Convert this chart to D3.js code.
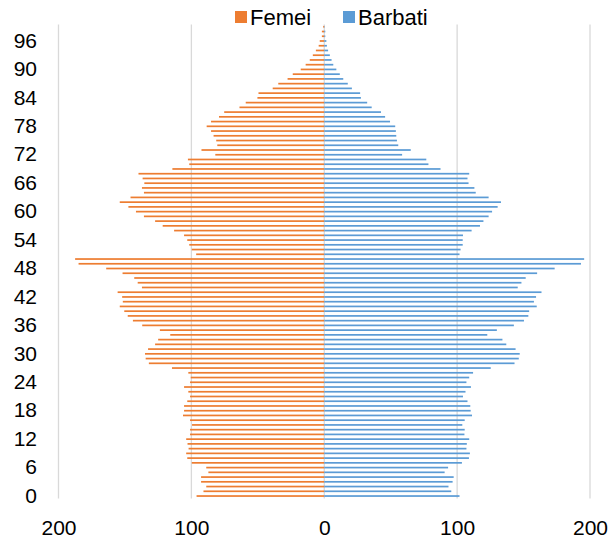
<!DOCTYPE html>
<html>
<head>
<meta charset="utf-8">
<script src="https://cdn.jsdelivr.net/npm/d3@7"></script>
<style>
  html, body { margin: 0; padding: 0; background: #ffffff; }
  svg { display: block; font-family: "Liberation Sans", Arial, sans-serif; }
</style>
</head>
<body>
<svg id="chart" width="610" height="548"></svg>
<script>
// Ages 0..99
const ages = d3.range(0, 100);

// Femei (women), age 0 .. 99
const femei = [
  96.1, 90.9, 88.8, 92.7, 92.7, 87.2, 88.8, 99.7, 103.1, 103.9,
  102.1, 102.9, 103.9, 101.0, 101.0, 99.5, 101.0, 106.3, 105.5, 105.5,
  103.1, 101.0, 102.3, 105.5, 101.0, 100.5, 102.3, 114.6, 132.0, 134.4,
  134.9, 132.6, 127.3, 125.0, 115.9, 123.7, 137.0, 144.0, 147.9, 150.5,
  153.9, 151.6, 152.1, 155.5, 137.2, 140.4, 143.0, 151.8, 164.1, 184.9,
  187.5, 96.4, 99.7, 101.6, 103.1, 105.5, 113.0, 121.6, 127.3, 135.7,
  141.7, 147.4, 153.9, 145.8, 135.7, 137.2, 135.4, 136.7, 139.8, 114.3,
  101.6, 102.6, 82.0, 92.4, 80.5, 81.3, 83.3, 85.2, 88.5, 85.2,
  79.2, 75.3, 63.8, 59.1, 50.3, 49.5, 38.8, 34.6, 27.6, 23.7,
  17.7, 14.0, 10.9, 8.6, 6.3, 4.2, 3.4, 1.8, 1.8, 0.8
];

// Barbati (men), age 0 .. 99
const barbati = [
  101.8, 95.6, 93.5, 96.6, 97.4, 90.6, 93.2, 103.6, 108.9, 109.6,
  107.0, 107.3, 109.1, 105.5, 105.7, 103.9, 105.7, 111.2, 110.2, 109.9,
  107.8, 104.4, 106.3, 110.4, 107.0, 109.1, 112.0, 125.3, 143.2, 146.4,
  147.1, 144.0, 137.0, 134.1, 122.7, 129.9, 142.7, 150.3, 153.6, 154.2,
  159.9, 157.8, 159.4, 163.5, 145.6, 148.4, 151.6, 160.2, 173.4, 193.2,
  195.6, 101.8, 102.6, 104.2, 104.2, 104.4, 110.9, 117.2, 119.8, 123.7,
  126.3, 130.5, 133.0, 123.7, 114.0, 113.0, 108.6, 107.8, 109.1, 87.5,
  78.4, 76.8, 58.6, 65.1, 55.7, 54.7, 54.2, 53.9, 53.4, 49.5,
  45.8, 42.7, 35.7, 32.3, 27.6, 27.0, 20.8, 17.7, 14.3, 11.7,
  9.1, 6.8, 5.5, 4.2, 2.9, 2.0, 1.6, 0.8, 0.8, 0.3
];

const xTicks = [-200, -100, 0, 100, 200];
const yTickLabels = d3.range(0, 100, 6);
const seriesNames = ["Femei", "Barbati"];
const colors = { Femei: "#ED7D31", Barbati: "#5B9BD5" };

const svg = d3.select("#chart");
const FONT = 21;

const x = d3.scaleLinear().domain([-200, 200]).range([58.5, 590]);
const y = d3.scaleBand()
  .domain(ages)
  .range([498.4, 24.4])
  .paddingInner(0.64)
  .paddingOuter(0.32);

// Gridlines
svg.append("g")
  .selectAll("line")
  .data(xTicks)
  .join("line")
  .attr("x1", d => x(d)).attr("x2", d => x(d))
  .attr("y1", 24.4).attr("y2", 498.4)
  .attr("stroke", "#d9d9d9")
  .attr("stroke-width", 1.3);

// Bars - Femei (left)
svg.append("g")
  .selectAll("rect")
  .data(ages)
  .join("rect")
  .attr("x", d => x(-femei[d]))
  .attr("width", d => x(0) - x(-femei[d]))
  .attr("y", d => y(d))
  .attr("height", y.bandwidth())
  .attr("fill", colors.Femei);

// Bars - Barbati (right)
svg.append("g")
  .selectAll("rect")
  .data(ages)
  .join("rect")
  .attr("x", x(0))
  .attr("width", d => x(barbati[d]) - x(0))
  .attr("y", d => y(d))
  .attr("height", y.bandwidth())
  .attr("fill", colors.Barbati);

// X axis labels
const xAxis = d3.axisBottom(x)
  .tickValues(xTicks)
  .tickFormat(d => Math.abs(d))
  .tickSize(0)
  .tickPadding(0);
const gx = svg.append("g")
  .attr("transform", "translate(0,520)")
  .call(xAxis);
gx.select(".domain").remove();
gx.selectAll("text")
  .attr("dy", "0.72em")
  .attr("font-size", FONT)
  .attr("font-family", "Liberation Sans, Arial, sans-serif")
  .attr("fill", "#000");

// Y axis labels
const yAxis = d3.axisLeft(y)
  .tickValues(yTickLabels)
  .tickSize(0)
  .tickPadding(0);
const gy = svg.append("g")
  .attr("transform", "translate(37,0)")
  .call(yAxis);
gy.select(".domain").remove();
gy.selectAll("text")
  .attr("font-size", FONT)
  .attr("font-family", "Liberation Sans, Arial, sans-serif")
  .attr("fill", "#000");

// Legend
const legendItems = [
  { name: seriesNames[0], sx: 235, tx: 250 },
  { name: seriesNames[1], sx: 343, tx: 358 }
];
const lg = svg.append("g");
legendItems.forEach(it => {
  lg.append("rect")
    .attr("x", it.sx).attr("y", 11)
    .attr("width", 12).attr("height", 12)
    .attr("fill", colors[it.name]);
  lg.append("text")
    .attr("x", it.tx).attr("y", 17)
    .attr("dy", "0.36em")
    .attr("font-size", 22)
    .attr("fill", "#000")
    .text(it.name);
});
</script>
</body>
</html>
